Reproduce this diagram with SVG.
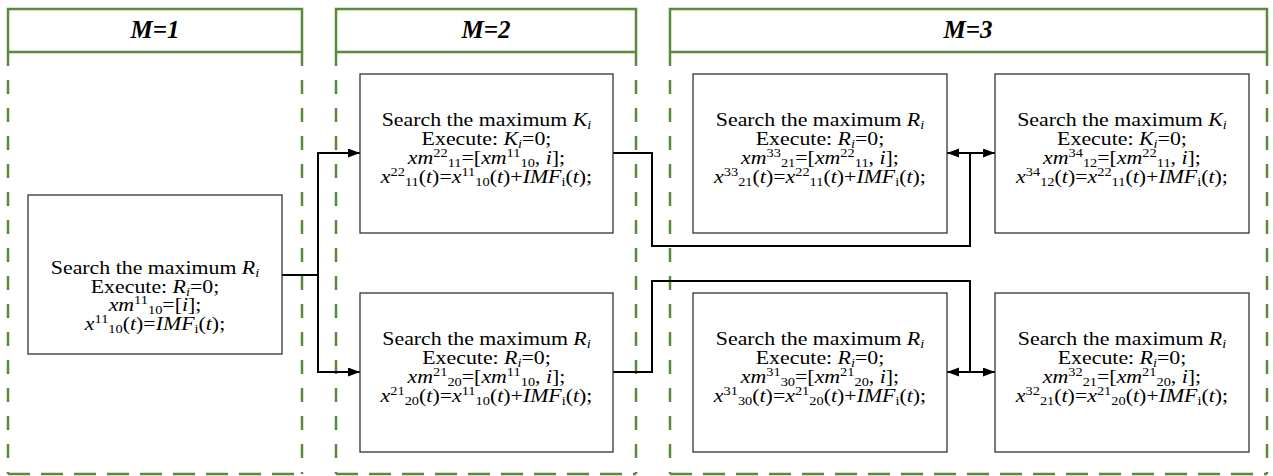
<svg xmlns="http://www.w3.org/2000/svg" width="1273" height="476" viewBox="0 0 1273 476">
  <style>
    .hdr { fill: #ffffff; stroke: #5b8a3c; stroke-width: 2.5; }
    .dv { fill: none; stroke: #5b8a3c; stroke-width: 2.5; stroke-dasharray: 14 14; }
    .dh { fill: none; stroke: #5b8a3c; stroke-width: 2.5; stroke-dasharray: 22 11; }
    .title { font-family: "Liberation Serif", "Times New Roman", serif; font-size: 25px; font-weight: bold; font-style: italic; text-anchor: middle; fill: #000; }
    .box { fill: #ffffff; stroke: #333333; stroke-width: 1.3; }
    .t { font-family: "Liberation Serif", "Times New Roman", serif; font-size: 19px; text-anchor: middle; fill: #000; }
    .i { font-style: italic; }
    .s { font-size: 12.5px; }
    .wire { fill: none; stroke: #000; stroke-width: 2; }
  </style>
  <defs>
    <marker id="arrow" markerUnits="userSpaceOnUse" markerWidth="13" markerHeight="10" refX="12" refY="4.5" orient="auto">
      <path d="M0,0 L12,4.5 L0,9 z" fill="#000"/>
    </marker>
  </defs>

  <!-- stage panels -->
  <g id="panel-m1">
    <rect class="hdr" x="8" y="9" width="294" height="43"/>
    <text class="title" x="155" y="38">M=1</text>
    <path class="dv" d="M8,52 V474"/>
    <path class="dv" d="M302,52 V474"/>
    <path class="dh" d="M8,474 H302"/>
  </g>
  <g id="panel-m2">
    <rect class="hdr" x="336" y="9" width="300" height="43"/>
    <text class="title" x="486" y="38">M=2</text>
    <path class="dv" d="M336,52 V474"/>
    <path class="dv" d="M636,52 V474"/>
    <path class="dh" d="M336,474 H636"/>
  </g>
  <g id="panel-m3">
    <rect class="hdr" x="670" y="9" width="597" height="43"/>
    <text class="title" x="968" y="38">M=3</text>
    <path class="dv" d="M670,52 V474"/>
    <path class="dv" d="M1267,52 V474"/>
    <path class="dh" d="M670,474 H1267"/>
  </g>

  <!-- connectors -->
  <g id="connectors">
    <path class="wire" d="M282,275 H318"/>
    <path class="wire" d="M318,275 V153 H360" marker-end="url(#arrow)"/>
    <path class="wire" d="M318,275 V372 H360" marker-end="url(#arrow)"/>
    <path class="wire" d="M613,153 H652 V246 H970 V153"/>
    <path class="wire" d="M970,153 H947" marker-end="url(#arrow)"/>
    <path class="wire" d="M970,153 H995" marker-end="url(#arrow)"/>
    <path class="wire" d="M613,372 H652 V281 H970 V372"/>
    <path class="wire" d="M970,372 H947" marker-end="url(#arrow)"/>
    <path class="wire" d="M970,372 H995" marker-end="url(#arrow)"/>
  </g>

  <!-- M=1 -->
  <g id="n10">
    <rect class="box" x="28" y="195" width="254" height="159"/>
    <g transform="translate(155 0) scale(1.15 1)">
      <text class="t" x="0" y="274">Search the maximum <tspan class="i">R</tspan><tspan class="i s" dy="3">i</tspan></text>
      <text class="t" x="0" y="293">Execute: <tspan class="i">R</tspan><tspan class="i s" dy="3">i</tspan><tspan dy="-3">=0;</tspan></text>
      <text class="t" x="0" y="311"><tspan class="i">xm</tspan><tspan class="s" dy="-7">11</tspan><tspan class="s" dy="10">10</tspan><tspan dy="-3">=[</tspan><tspan class="i">i</tspan>];</text>
      <text class="t" x="0" y="330"><tspan class="i">x</tspan><tspan class="s" dy="-7">11</tspan><tspan class="s" dy="10">10</tspan><tspan dy="-3">(</tspan><tspan class="i">t</tspan>)=<tspan class="i">IMF</tspan><tspan class="s" dy="3">i</tspan><tspan dy="-3">(</tspan><tspan class="i">t</tspan>);</text>
    </g>
  </g>

  <!-- M=2 -->
  <g id="n11">
    <rect class="box" x="360" y="74" width="253" height="159"/>
    <g transform="translate(486.5 0) scale(1.15 1)">
      <text class="t" x="0" y="126">Search the maximum <tspan class="i">K</tspan><tspan class="i s" dy="3">i</tspan></text>
      <text class="t" x="0" y="145">Execute: <tspan class="i">K</tspan><tspan class="i s" dy="3">i</tspan><tspan dy="-3">=0;</tspan></text>
      <text class="t" x="0" y="164"><tspan class="i">xm</tspan><tspan class="s" dy="-7">22</tspan><tspan class="s" dy="10">11</tspan><tspan dy="-3">=[</tspan><tspan class="i">xm</tspan><tspan class="s" dy="-7">11</tspan><tspan class="s" dy="10">10</tspan><tspan dy="-3">, </tspan><tspan class="i">i</tspan>];</text>
      <text class="t" x="0" y="183"><tspan class="i">x</tspan><tspan class="s" dy="-7">22</tspan><tspan class="s" dy="10">11</tspan><tspan dy="-3">(</tspan><tspan class="i">t</tspan>)=<tspan class="i">x</tspan><tspan class="s" dy="-7">11</tspan><tspan class="s" dy="10">10</tspan><tspan dy="-3">(</tspan><tspan class="i">t</tspan>)+<tspan class="i">IMF</tspan><tspan class="s" dy="3">i</tspan><tspan dy="-3">(</tspan><tspan class="i">t</tspan>);</text>
    </g>
  </g>
  <g id="n20">
    <rect class="box" x="360" y="293" width="253" height="159"/>
    <g transform="translate(486.5 0) scale(1.15 1)">
      <text class="t" x="0" y="345">Search the maximum <tspan class="i">R</tspan><tspan class="i s" dy="3">i</tspan></text>
      <text class="t" x="0" y="364">Execute: <tspan class="i">R</tspan><tspan class="i s" dy="3">i</tspan><tspan dy="-3">=0;</tspan></text>
      <text class="t" x="0" y="383"><tspan class="i">xm</tspan><tspan class="s" dy="-7">21</tspan><tspan class="s" dy="10">20</tspan><tspan dy="-3">=[</tspan><tspan class="i">xm</tspan><tspan class="s" dy="-7">11</tspan><tspan class="s" dy="10">10</tspan><tspan dy="-3">, </tspan><tspan class="i">i</tspan>];</text>
      <text class="t" x="0" y="402"><tspan class="i">x</tspan><tspan class="s" dy="-7">21</tspan><tspan class="s" dy="10">20</tspan><tspan dy="-3">(</tspan><tspan class="i">t</tspan>)=<tspan class="i">x</tspan><tspan class="s" dy="-7">11</tspan><tspan class="s" dy="10">10</tspan><tspan dy="-3">(</tspan><tspan class="i">t</tspan>)+<tspan class="i">IMF</tspan><tspan class="s" dy="3">i</tspan><tspan dy="-3">(</tspan><tspan class="i">t</tspan>);</text>
    </g>
  </g>

  <!-- M=3 -->
  <g id="n21">
    <rect class="box" x="693" y="74" width="254" height="159"/>
    <g transform="translate(820 0) scale(1.15 1)">
      <text class="t" x="0" y="126">Search the maximum <tspan class="i">R</tspan><tspan class="i s" dy="3">i</tspan></text>
      <text class="t" x="0" y="145">Execute: <tspan class="i">R</tspan><tspan class="i s" dy="3">i</tspan><tspan dy="-3">=0;</tspan></text>
      <text class="t" x="0" y="164"><tspan class="i">xm</tspan><tspan class="s" dy="-7">33</tspan><tspan class="s" dy="10">21</tspan><tspan dy="-3">=[</tspan><tspan class="i">xm</tspan><tspan class="s" dy="-7">22</tspan><tspan class="s" dy="10">11</tspan><tspan dy="-3">, </tspan><tspan class="i">i</tspan>];</text>
      <text class="t" x="0" y="183"><tspan class="i">x</tspan><tspan class="s" dy="-7">33</tspan><tspan class="s" dy="10">21</tspan><tspan dy="-3">(</tspan><tspan class="i">t</tspan>)=<tspan class="i">x</tspan><tspan class="s" dy="-7">22</tspan><tspan class="s" dy="10">11</tspan><tspan dy="-3">(</tspan><tspan class="i">t</tspan>)+<tspan class="i">IMF</tspan><tspan class="s" dy="3">i</tspan><tspan dy="-3">(</tspan><tspan class="i">t</tspan>);</text>
    </g>
  </g>
  <g id="n12">
    <rect class="box" x="995" y="74" width="254" height="159"/>
    <g transform="translate(1122 0) scale(1.15 1)">
      <text class="t" x="0" y="126">Search the maximum <tspan class="i">K</tspan><tspan class="i s" dy="3">i</tspan></text>
      <text class="t" x="0" y="145">Execute: <tspan class="i">K</tspan><tspan class="i s" dy="3">i</tspan><tspan dy="-3">=0;</tspan></text>
      <text class="t" x="0" y="164"><tspan class="i">xm</tspan><tspan class="s" dy="-7">34</tspan><tspan class="s" dy="10">12</tspan><tspan dy="-3">=[</tspan><tspan class="i">xm</tspan><tspan class="s" dy="-7">22</tspan><tspan class="s" dy="10">11</tspan><tspan dy="-3">, </tspan><tspan class="i">i</tspan>];</text>
      <text class="t" x="0" y="183"><tspan class="i">x</tspan><tspan class="s" dy="-7">34</tspan><tspan class="s" dy="10">12</tspan><tspan dy="-3">(</tspan><tspan class="i">t</tspan>)=<tspan class="i">x</tspan><tspan class="s" dy="-7">22</tspan><tspan class="s" dy="10">11</tspan><tspan dy="-3">(</tspan><tspan class="i">t</tspan>)+<tspan class="i">IMF</tspan><tspan class="s" dy="3">i</tspan><tspan dy="-3">(</tspan><tspan class="i">t</tspan>);</text>
    </g>
  </g>
  <g id="n30">
    <rect class="box" x="693" y="293" width="254" height="159"/>
    <g transform="translate(820 0) scale(1.15 1)">
      <text class="t" x="0" y="345">Search the maximum <tspan class="i">R</tspan><tspan class="i s" dy="3">i</tspan></text>
      <text class="t" x="0" y="364">Execute: <tspan class="i">R</tspan><tspan class="i s" dy="3">i</tspan><tspan dy="-3">=0;</tspan></text>
      <text class="t" x="0" y="383"><tspan class="i">xm</tspan><tspan class="s" dy="-7">31</tspan><tspan class="s" dy="10">30</tspan><tspan dy="-3">=[</tspan><tspan class="i">xm</tspan><tspan class="s" dy="-7">21</tspan><tspan class="s" dy="10">20</tspan><tspan dy="-3">, </tspan><tspan class="i">i</tspan>];</text>
      <text class="t" x="0" y="402"><tspan class="i">x</tspan><tspan class="s" dy="-7">31</tspan><tspan class="s" dy="10">30</tspan><tspan dy="-3">(</tspan><tspan class="i">t</tspan>)=<tspan class="i">x</tspan><tspan class="s" dy="-7">21</tspan><tspan class="s" dy="10">20</tspan><tspan dy="-3">(</tspan><tspan class="i">t</tspan>)+<tspan class="i">IMF</tspan><tspan class="s" dy="3">i</tspan><tspan dy="-3">(</tspan><tspan class="i">t</tspan>);</text>
    </g>
  </g>
  <g id="n32">
    <rect class="box" x="995" y="293" width="254" height="159"/>
    <g transform="translate(1122 0) scale(1.15 1)">
      <text class="t" x="0" y="345">Search the maximum <tspan class="i">R</tspan><tspan class="i s" dy="3">i</tspan></text>
      <text class="t" x="0" y="364">Execute: <tspan class="i">R</tspan><tspan class="i s" dy="3">i</tspan><tspan dy="-3">=0;</tspan></text>
      <text class="t" x="0" y="383"><tspan class="i">xm</tspan><tspan class="s" dy="-7">32</tspan><tspan class="s" dy="10">21</tspan><tspan dy="-3">=[</tspan><tspan class="i">xm</tspan><tspan class="s" dy="-7">21</tspan><tspan class="s" dy="10">20</tspan><tspan dy="-3">, </tspan><tspan class="i">i</tspan>];</text>
      <text class="t" x="0" y="402"><tspan class="i">x</tspan><tspan class="s" dy="-7">32</tspan><tspan class="s" dy="10">21</tspan><tspan dy="-3">(</tspan><tspan class="i">t</tspan>)=<tspan class="i">x</tspan><tspan class="s" dy="-7">21</tspan><tspan class="s" dy="10">20</tspan><tspan dy="-3">(</tspan><tspan class="i">t</tspan>)+<tspan class="i">IMF</tspan><tspan class="s" dy="3">i</tspan><tspan dy="-3">(</tspan><tspan class="i">t</tspan>);</text>
    </g>
  </g>
</svg>
